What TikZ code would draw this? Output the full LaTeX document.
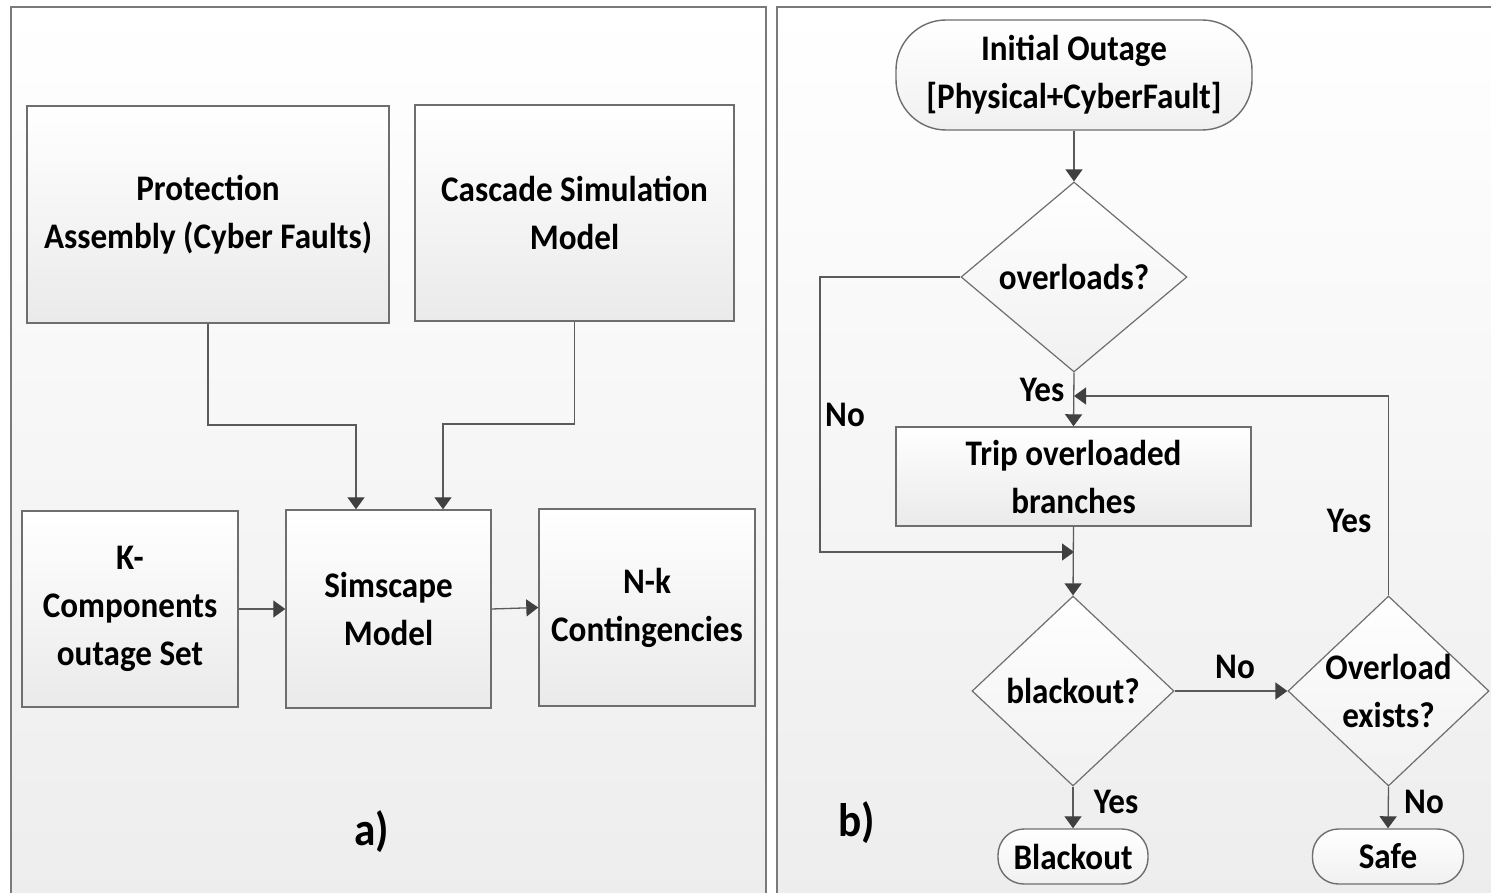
\documentclass[tikz,border=0pt]{standalone}
\usepackage{fontspec}
\setmainfont{Carlito}[FakeStretch=0.92]
\usetikzlibrary{shapes.geometric,arrows.meta}
\definecolor{edge}{HTML}{6E6E6E}
\definecolor{frame}{HTML}{7A7A7A}
\definecolor{wire}{HTML}{5A5A5A}
\definecolor{tip}{HTML}{404040}
\definecolor{panelbot}{HTML}{EDEDED}
\definecolor{boxbot}{HTML}{EAEAEA}
\begin{document}
\begin{tikzpicture}[x=1pt,y=-1pt,
  txt/.style={font=\fontsize{36}{48}\selectfont\bfseries, align=center, text=black, inner sep=0pt},
  big/.style={font=\fontsize{47}{52}\selectfont\bfseries, text=black, inner sep=0pt},
  block/.style={txt, draw=edge, line width=1.4pt, top color=white, bottom color=boxbot},
  term/.style={block, bottom color=boxbot!70},
  dia/.style={shape=diamond, draw=edge, line width=1.2pt, top color=white, bottom color=boxbot!70, inner sep=0pt},
  panel/.style={draw=frame, line width=2pt, top color=white, bottom color=panelbot},
  arr/.style={draw=wire, line width=1.3pt, -{Triangle[length=12pt,width=17pt,color=tip,fill=tip]}}
]
\useasboundingbox (0,0) rectangle (1491,893);
\clip (0,0) rectangle (1491,893);

% two panels
\path[panel] (11,7) rectangle (766,905);
\path[panel] (777,7) rectangle (1505,905);

% ---------- panel a) ----------
\node[block, minimum width=362pt, minimum height=217pt] (prot) at (208,214.5) {Protection\\Assembly (Cyber Faults)};
\node[block, minimum width=319pt, minimum height=216pt] (casc) at (574.5,213) {Cascade Simulation\\Model};
\node[block, minimum width=216pt, minimum height=196pt] (kc) at (130,609) {K-\\Components\\outage Set};
\node[block, minimum width=205pt, minimum height=198pt] (sim) at (388.5,609) {Simscape\\Model};
\node[block, minimum width=216pt, minimum height=197pt] (nk) at (647,607.5) {N-k\\Contingencies};

\coordinate (c1) at (356,425);
\coordinate (c2) at (443,424);
\draw[arr] (prot.south) |- (c1) -- (c1 |- sim.north);
\draw[arr] (casc.south) |- (c2) -- (c2 |- sim.north);
\draw[arr] (kc.east) -- (sim.west);
\draw[arr] (sim.east) -- (nk.west);

\node[big] (la) at (372,832) {a)};

% ---------- panel b) ----------
\node[term, minimum width=356pt, minimum height=110pt, rounded corners=50pt] (start) at (1074,75) {Initial Outage\\{}[Physical+CyberFault]};
\node[dia, minimum width=226pt, minimum height=190pt] (d1) at (1074,277) {};
\node[txt] (d1t) at (d1) {overloads?};
\node[block, minimum width=355pt, minimum height=99pt] (trip) at (1073.5,476.5) {Trip overloaded\\branches};
\node[dia, minimum width=202pt, minimum height=190pt] (d2) at (1073,691) {};
\node[txt] (d2t) at (d2) {blackout?};
\node[dia, minimum width=201pt, minimum height=190pt] (d3) at (1388.5,691) {};
\node[txt] (d3t) at (d3) {Overload\\exists?};
\node[term, minimum width=150pt, minimum height=55pt, rounded corners=26pt] (bo) at (1073,856.5) {Blackout};
\node[term, minimum width=151pt, minimum height=55pt, rounded corners=26pt] (safe) at (1388,856.5) {Safe};

\coordinate (nb) at (820,552);
\coordinate (nm) at (1074,552);
\coordinate (fm) at (1074,396);

\draw[arr] (start.south) -- (d1.north);
\draw[arr] (d1.south) -- (trip.north);
\draw[arr] (d1.west) -| (nb) -- (nm);
\draw[arr] (trip.south) -- (d2.north);
\draw[arr] (d3.north) |- (fm);
\draw[arr] (d2.east) -- (d3.west);
\draw[arr] (d2.south) -- (bo.north);
\draw[arr] (d3.south) -- (safe.north);

\node[txt] (lno1) at (845,415) {No};
\node[txt] (lyes1) at (1042,390) {Yes};
\node[txt] (lyes2) at (1349,521) {Yes};
\node[txt] (lno2) at (1235,667) {No};
\node[txt] (lyes3) at (1116,802) {Yes};
\node[txt] (lno3) at (1424,802) {No};

\node[big] (lb) at (857,823) {b)};
\end{tikzpicture}
\end{document}
